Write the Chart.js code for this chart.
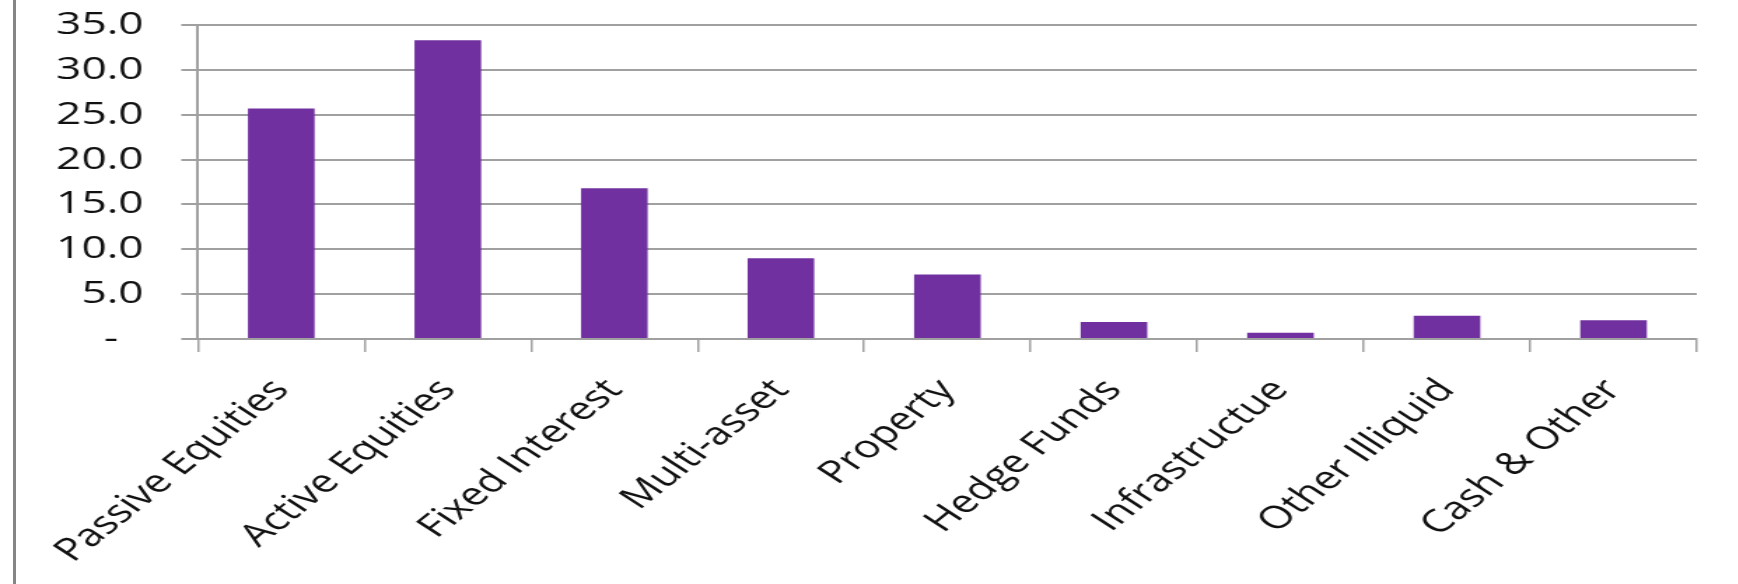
<!DOCTYPE html>
<html>
<head>
<meta charset="utf-8">
<script src="https://cdn.jsdelivr.net/npm/chart.js@4.4.1/dist/chart.umd.min.js"></script>
<style>
  html, body { margin: 0; padding: 0; background: #ffffff; overflow: hidden; }
  #wrap { position: absolute; left: 0; top: 0; width: 1738px; height: 584px; }
  #c { transform-origin: 0 0; display: block; }
  #frame { position: absolute; left: 13px; top: 0; width: 3px; height: 584px; background: #858585; }
</style>
</head>
<body>
<div id="wrap"><canvas id="c"></canvas></div>
<div id="frame"></div>
<script>
const categories = ["Passive Equities", "Active Equities", "Fixed Interest", "Multi-asset", "Property", "Hedge Funds", "Infrastructue", "Other Illiquid", "Cash & Other"];
const allocation = [25.7, 33.3, 16.8, 9.0, 7.2, 1.9, 0.7, 2.6, 2.1];
const yMin = 0;
const yMax = 35;
const yStep = 5;

const STRETCH = 1.4;
const W = Math.round(1738 / STRETCH);
const H = 584;
const canvas = document.getElementById('c');
canvas.width = W; canvas.height = H;
canvas.style.width = W + 'px'; canvas.style.height = H + 'px';
canvas.style.transform = 'scaleX(' + STRETCH + ')';

const FONT = { family: "'Open Sans', sans-serif", size: 31.5 };
const GRID = '#a0a0a0';

new Chart(canvas, {
  type: 'bar',
  data: {
    labels: categories,
    datasets: [{
      data: allocation,
      backgroundColor: '#7030A0',
      borderWidth: 0,
      categoryPercentage: 1.0,
      barPercentage: 0.4
    }]
  },
  options: {
    responsive: false,
    maintainAspectRatio: false,
    animation: false,
    devicePixelRatio: 1,
    layout: { padding: { left: 0, right: W - Math.round(1697 / STRETCH), top: 25, bottom: 0 } },
    plugins: { legend: { display: false }, tooltip: { enabled: false } },
    scales: {
      x: {
        offset: true,
        grid: { display: true, drawOnChartArea: false, drawTicks: true, tickLength: 13, color: GRID, lineWidth: 1.5, offset: true },
        border: { display: true, color: GRID, width: 2 },
        ticks: { color: '#111', font: FONT, minRotation: 48, maxRotation: 48, padding: 20, autoSkip: false },
        afterFit: (s) => { s.height = H - 339; s.paddingLeft = 0; s.paddingRight = 0; }
      },
      y: {
        min: yMin, max: yMax,
        grid: { color: GRID, lineWidth: 2, drawTicks: true, tickLength: 12 },
        border: { display: true, color: GRID, width: 2 },
        ticks: {
          stepSize: yStep, color: '#111', font: FONT, padding: 27,
          callback: (v) => v === 0 ? '-\u2007' : v.toFixed(1)
        },
        afterFit: (s) => { s.width = 198 / STRETCH; s.paddingTop = 0; s.paddingBottom = 0; }
      }
    }
  }
});
</script>
</body>
</html>
